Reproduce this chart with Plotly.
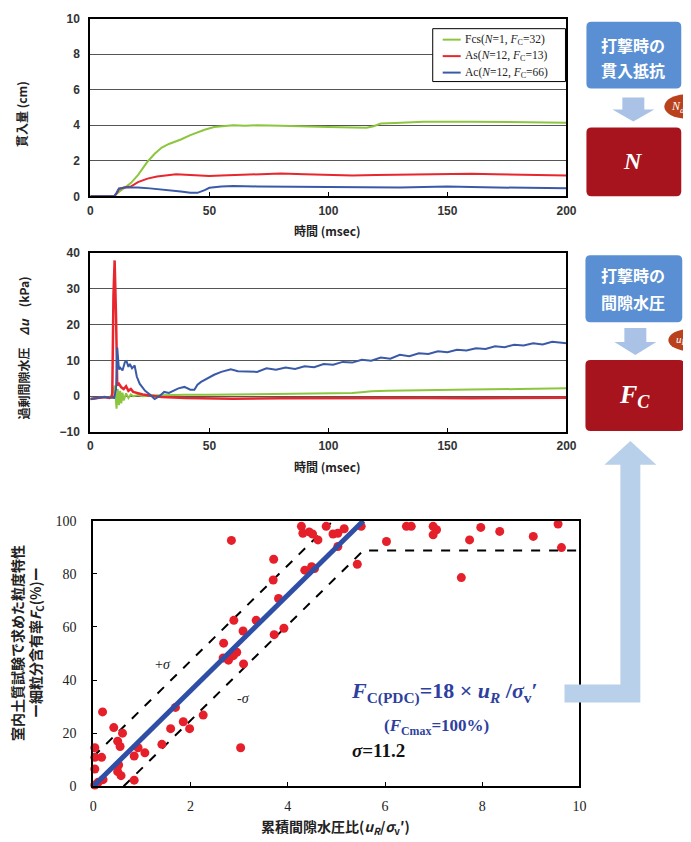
import plotly.graph_objects as go

W, H = 691, 842
# empirical mapping from target window pixels to figure pixels (compensates page offset/scaling)
SX, BX = 0.983, 9.5
SY, BY = 0.984, 14.3

# ---------------- top chart: penetration (cm) vs time (msec) ----------------
fcs_t = [0, 10, 11, 13, 15, 17, 20, 22, 24, 27, 30, 33, 36, 38, 42, 45, 48, 52, 56, 60, 65, 70, 80, 90,
         100, 110, 116, 119, 122, 128, 140, 160, 180, 200]
fcs_pen = [0, 0, 0.15, 0.35, 0.55, 0.75, 1.2, 1.55, 1.95, 2.4, 2.75, 2.95, 3.1, 3.2, 3.45, 3.62, 3.75, 3.9,
           3.97, 4.0, 3.98, 4.0, 3.97, 3.92, 3.9, 3.87, 3.86, 3.95, 4.1, 4.13, 4.2, 4.2, 4.18, 4.15]
as_t = [0, 10, 11, 12, 14, 17, 20, 24, 28, 32, 36, 40, 45, 50, 55, 60, 70, 80, 90, 100, 110, 120, 130,
        140, 150, 160, 170, 180, 190, 200]
as_pen = [0, 0, 0.15, 0.4, 0.5, 0.55, 0.8, 1.0, 1.12, 1.2, 1.25, 1.22, 1.2, 1.15, 1.18, 1.2, 1.22, 1.28,
          1.25, 1.22, 1.18, 1.2, 1.22, 1.25, 1.28, 1.27, 1.25, 1.22, 1.2, 1.18]
ac_t = [0, 10, 11, 12, 15, 20, 25, 30, 35, 38, 42, 45, 48, 50, 55, 60, 70, 80, 90, 100, 110, 120, 130,
        140, 150, 160, 170, 180, 190, 200]
ac_pen = [0, 0, 0.2, 0.45, 0.5, 0.5, 0.45, 0.4, 0.32, 0.28, 0.2, 0.2, 0.35, 0.48, 0.55, 0.58, 0.56, 0.55,
          0.52, 0.5, 0.48, 0.47, 0.5, 0.53, 0.55, 0.52, 0.5, 0.48, 0.46, 0.45]
legend_names = ['Fcs(<i>N</i>=1, <i>F</i><sub>C</sub>=32)',
                'As(<i>N</i>=12, <i>F</i><sub>C</sub>=13)',
                'Ac(<i>N</i>=12, <i>F</i><sub>C</sub>=66)']

# ---------------- middle chart: excess pore pressure (kPa) vs time ----------------
fcs_t2 = [0, 3, 6, 8, 9.5, 10.2, 11, 11.5, 12, 12.5, 13, 13.5, 14, 15, 16, 17, 18, 20, 22, 25, 30, 40, 50,
          60, 80, 100, 110, 115, 118, 125, 140, 160, 180, 200]
fcs_du = [-0.8, -0.5, -0.2, -0.5, 1.0, 3.0, -3.5, 2, -2.5, 1.5, -2, 1, -1.2, 0.8, -0.5, 0.5, 0, 0.3, 0, 0.2,
          0.3, 0.4, 0.4, 0.5, 0.6, 0.8, 0.9, 1.2, 1.4, 1.5, 1.7, 1.9, 2.0, 2.2]
as_t2 = [0, 3, 6, 8, 9.2, 9.7, 10.2, 10.8, 11.3, 12, 13, 14, 15, 16, 17, 18, 20, 22, 25, 30, 40, 50, 60, 80,
         100, 120, 140, 160, 180, 200]
as_du = [-0.8, -0.5, -0.2, -0.5, 0, 28, 38, 22, 3, 3.5, 2.5, 2, 2.8, 1.5, 2, 1.2, 0.8, 0.5, 0.2, -0.2, -0.5,
         -0.6, -0.7, -0.6, -0.5, -0.6, -0.5, -0.6, -0.5, -0.4]
ac_t2 = [0, 3, 6, 8, 10, 10.8, 11.3, 12, 12.5, 13.5, 14.5, 15.2, 16, 16.6, 17.5, 18.6, 19.5, 20.7, 22, 23,
         25, 27, 29, 31, 33, 35, 37, 39.5, 42, 43.7, 45, 46.5, 49, 52, 55, 59, 62, 66, 70, 74, 78, 82, 86,
         90, 94, 98, 102, 106, 110, 114, 118, 122, 126, 130, 134, 138, 142, 146, 150, 154, 158, 162, 166,
         170, 174, 178, 182, 186, 190, 194, 198, 200]
ac_du = [-0.8, -0.5, -0.2, -0.4, -0.5, 2, 13.6, 7.5, 8, 7.2, 9.5, 9.8, 8.2, 9, 7.8, 8.6, 5.5, 3.5, 2.2, 1.5,
         0.5, -0.8, 0, 1.2, 0.9, 1.6, 2.2, 2.6, 1.8, 1.8, 3.2, 4.0, 5.0, 6.0, 6.8, 7.5, 7.0, 7.0, 6.8, 7.8,
         7.4, 8.0, 7.6, 8.4, 8.1, 9.0, 8.8, 9.6, 9.4, 10.2, 9.9, 10.8, 10.5, 11.6, 11.2, 12.0, 11.8, 12.6,
         12.3, 13.0, 12.8, 13.4, 13.2, 14.0, 13.7, 14.4, 14.2, 14.8, 14.5, 15.2, 15.0, 14.8]

# ---------------- bottom chart: Fc vs cumulative pore pressure ratio ----------------
ur_ratio = [2.84, 3.71, 3.70, 3.81, 2.89, 3.35, 3.08, 3.72, 3.92, 2.68, 2.67, 2.78, 2.95, 2.88, 3.09,
            1.69, 1.85, 1.98, 1.59, 2.26, 1.41, 1.06, 0.84, 0.92, 3.03, 0.19, 0.42, 0.60, 0.50, 0.55,
            0.03, 0.03, 0.17, 0.03, 0.52, 0.50, 0.57, 0.84, 0.03, 0.10, 0.20,
            4.28, 4.31, 4.44, 4.51, 4.62, 4.79, 4.93, 5.03, 5.16, 5.03, 5.51, 4.35, 4.49, 4.55, 5.43,
            6.03, 6.44, 6.54, 6.99, 7.06, 6.99, 7.74, 7.97, 8.36, 7.57, 9.05, 9.56, 9.63]
fc_lab = [92.6, 85.5, 77.7, 70.7, 62.5, 62.5, 58.5, 57.1, 59.5, 53.9, 48.3, 47.5, 50.5, 49.2, 46.1,
          29.7, 24.3, 21.7, 21.7, 26.8, 15.8, 12.6, 11.4, 14.5, 14.5, 28.0, 22.1, 20.0, 17.0, 15.0,
          14.5, 10.9, 10.9, 6.5, 8.0, 5.5, 4.0, 2.3, 0.5, 1.5, 2.5,
          97.9, 95.3, 95.8, 95.0, 92.8, 97.9, 95.0, 95.3, 97.0, 90.3, 97.9, 81.4, 82.7, 82.0, 83.6,
          92.2, 97.9, 97.9, 97.9, 96.6, 94.7, 92.8, 97.5, 96.0, 78.6, 94.1, 98.8, 89.9]
slope = 18.0
sigma = 11.2
fc_max = 100.0

GREEN, RED, BLUE = '#8cc63f', '#e8262d', '#3a5aa8'

fig = go.Figure()

fig.add_trace(go.Scatter(x=fcs_t, y=fcs_pen, mode='lines', line=dict(color=GREEN, width=2),
                         name='Fcs', showlegend=False, xaxis='x', yaxis='y'))
fig.add_trace(go.Scatter(x=as_t, y=as_pen, mode='lines', line=dict(color=RED, width=2),
                         name='As', showlegend=False, xaxis='x', yaxis='y'))
fig.add_trace(go.Scatter(x=ac_t, y=ac_pen, mode='lines', line=dict(color=BLUE, width=2),
                         name='Ac', showlegend=False, xaxis='x', yaxis='y'))

fig.add_trace(go.Scatter(x=fcs_t2, y=fcs_du, mode='lines', line=dict(color=GREEN, width=2),
                         showlegend=False, xaxis='x2', yaxis='y2'))
fig.add_trace(go.Scatter(x=as_t2, y=as_du, mode='lines', line=dict(color=RED, width=2.5),
                         showlegend=False, xaxis='x2', yaxis='y2'))
fig.add_trace(go.Scatter(x=ac_t2, y=ac_du, mode='lines', line=dict(color=BLUE, width=2),
                         showlegend=False, xaxis='x2', yaxis='y2'))

# regression and ±sigma lines
x_knee = fc_max / slope
x_plus_end = (fc_max - sigma) / slope
x_minus_start = sigma / slope
fig.add_trace(go.Scatter(x=[0, x_plus_end], y=[sigma, fc_max], mode='lines',
                         line=dict(color='black', width=2, dash='dash'), showlegend=False,
                         xaxis='x3', yaxis='y3'))
fig.add_trace(go.Scatter(x=[x_minus_start, x_knee, 10], y=[0, fc_max - sigma, fc_max - sigma],
                         mode='lines', line=dict(color='black', width=2, dash='dash'),
                         showlegend=False, xaxis='x3', yaxis='y3'))
fig.add_trace(go.Scatter(x=ur_ratio, y=fc_lab, mode='markers',
                         marker=dict(color='#e5202a', size=9), showlegend=False,
                         xaxis='x3', yaxis='y3', cliponaxis=False))
fig.add_trace(go.Scatter(x=[0, x_knee], y=[0, fc_max], mode='lines',
                         line=dict(color='#2f4fa6', width=5), showlegend=False,
                         xaxis='x3', yaxis='y3'))


def X(r):
    """target pixel x -> paper x"""
    return ((r - BX) / SX) / W


def Y(r):
    """target pixel y -> paper y"""
    return 1 - ((r - BY) / SY) / H


sans_tick = dict(family='Liberation Sans', size=12, color='#333', weight='bold')
serif_tick = dict(family='Liberation Serif', size=14, color='#222')

common_x = dict(showline=True, linecolor='black', linewidth=2, mirror=True, ticks='inside',
                ticklen=4, tickcolor='black', showgrid=False, zeroline=False)

fig.update_layout(
    width=W, height=H, margin=dict(l=0, r=0, t=0, b=0),
    paper_bgcolor='white', plot_bgcolor='white', showlegend=False,
    font=dict(family='Noto Sans CJK JP'),
    xaxis=dict(domain=[X(89), X(566)], anchor='y', range=[0, 200], tickvals=[0, 50, 100, 150, 200],
               tickfont=sans_tick, ticklabelstandoff=2, **common_x),
    yaxis=dict(domain=[Y(196), Y(18)], anchor='x', range=[0, 10], tickvals=[0, 2, 4, 6, 8, 10],
               showline=True, linecolor='black', linewidth=2, mirror=True, ticks='',
               showgrid=True, gridcolor='#555', gridwidth=1, zeroline=False,
               tickfont=sans_tick, ticklabelstandoff=6),
    xaxis2=dict(domain=[X(89), X(566)], anchor='y2', range=[0, 200], tickvals=[0, 50, 100, 150, 200],
                tickfont=sans_tick, ticklabelstandoff=2, **common_x),
    yaxis2=dict(domain=[Y(432), Y(253)], anchor='x2', range=[-10, 40],
                tickvals=[-10, 0, 10, 20, 30, 40],
                showline=True, linecolor='black', linewidth=2, mirror=True, ticks='',
                showgrid=True, gridcolor='#555', gridwidth=1, zeroline=False,
                tickfont=sans_tick, ticklabelstandoff=6),
    xaxis3=dict(domain=[X(92), X(579)], anchor='y3', range=[0, 10], tickvals=[0, 2, 4, 6, 8, 10],
                tickfont=serif_tick, ticklabelstandoff=6, **common_x),
    yaxis3=dict(domain=[Y(787), Y(521)], anchor='x3', range=[0, 100],
                tickvals=[0, 20, 40, 60, 80, 100],
                showline=True, linecolor='black', linewidth=2, mirror=True, ticks='inside',
                ticklen=4, tickcolor='black', showgrid=False, zeroline=False,
                tickfont=serif_tick, ticklabelstandoff=12),
)


def rrect(x0, y0, x1, y1, r):
    return (f"M {X(x0 + r)},{Y(y0)} L {X(x1 - r)},{Y(y0)} Q {X(x1)},{Y(y0)} {X(x1)},{Y(y0 + r)} "
            f"L {X(x1)},{Y(y1 - r)} Q {X(x1)},{Y(y1)} {X(x1 - r)},{Y(y1)} "
            f"L {X(x0 + r)},{Y(y1)} Q {X(x0)},{Y(y1)} {X(x0)},{Y(y1 - r)} "
            f"L {X(x0)},{Y(y0 + r)} Q {X(x0)},{Y(y0)} {X(x0 + r)},{Y(y0)} Z")


def poly(pts):
    return "M " + " L ".join(f"{X(a)},{Y(b)}" for a, b in pts) + " Z"


shapes = []
BOXBLUE, BOXRED, ARROW = '#5b8fd3', '#a8141e', '#a9c2e6'
# legend box for the top chart
shapes.append(dict(type='rect', x0=X(432), x1=X(565), y0=Y(81), y1=Y(28), fillcolor='white',
                   line=dict(color='black', width=1), xref='paper', yref='paper'))
for i, col in enumerate([GREEN, RED, BLUE]):
    yy = 39 + 16.5 * i
    shapes.append(dict(type='line', x0=X(442), x1=X(460), y0=Y(yy), y1=Y(yy),
                       line=dict(color=col, width=2), xref='paper', yref='paper'))
# top flow
shapes.append(dict(type='path', path=rrect(586, 21, 681, 88, 5), fillcolor=BOXBLUE, line=dict(width=0),
                   xref='paper', yref='paper'))
shapes.append(dict(type='path', path=poly([(622, 97), (644, 97), (644, 109), (654, 109), (633, 121),
                                           (612, 109), (622, 109)]),
                   fillcolor=ARROW, line=dict(width=0), xref='paper', yref='paper'))
shapes.append(dict(type='circle', x0=X(664), x1=X(706), y0=Y(118), y1=Y(94), fillcolor='#b9421c',
                   line=dict(width=0), xref='paper', yref='paper'))
shapes.append(dict(type='path', path=rrect(586, 127, 681, 196, 5), fillcolor=BOXRED, line=dict(width=0),
                   xref='paper', yref='paper'))
# middle flow
shapes.append(dict(type='path', path=rrect(585, 255, 682, 322, 5), fillcolor=BOXBLUE, line=dict(width=0),
                   xref='paper', yref='paper'))
shapes.append(dict(type='path', path=poly([(624, 328), (646, 328), (646, 342), (656, 342), (635, 355),
                                           (614, 342), (624, 342)]),
                   fillcolor=ARROW, line=dict(width=0), xref='paper', yref='paper'))
shapes.append(dict(type='circle', x0=X(668), x1=X(710), y0=Y(351), y1=Y(329), fillcolor='#b9421c',
                   line=dict(width=0), xref='paper', yref='paper'))
shapes.append(dict(type='path', path=rrect(585, 360, 684, 431, 5), fillcolor=BOXRED, line=dict(width=0),
                   xref='paper', yref='paper'))
# big L arrow
shapes.append(dict(type='path', path=poly([(564, 685), (620, 685), (620, 465), (604, 465), (630, 441),
                                           (656, 465), (640, 465), (640, 703), (564, 703)]),
                   fillcolor='#b9d0ea', line=dict(width=0), xref='paper', yref='paper'))
fig.update_layout(shapes=shapes)

ann = []


def A(px, py, text, size, color='black', family='Noto Sans CJK JP', angle=0, xanchor='center'):
    ann.append(dict(x=X(px), y=Y(py), xref='paper', yref='paper', text=text, showarrow=False,
                    textangle=angle, xanchor=xanchor, yanchor='middle',
                    font=dict(size=size, color=color, family=family)))


# legend texts
for i, name in enumerate(legend_names):
    A(462, 39 + 16.5 * i, name, 11.5, '#222', family='Liberation Serif', xanchor='left')

# axis titles
A(327, 230, '<b>時間 (msec)</b>', 12, '#222')
A(327, 467, '<b>時間 (msec)</b>', 12, '#222')
A(20, 113, '<b>貫入量 (cm)</b>', 12, '#222', angle=-90)
A(22, 348, '<b>過剰間隙水圧　<i>Δu</i>　(kPa)</b>', 12, '#222', angle=-90)
A(15, 643, '<b>室内土質試験で求めた粒度特性</b>', 14, '#222', angle=-90)
A(34, 643, '<b>ー細粒分含有率<i>F</i><sub>C</sub>(%)ー</b>', 14, '#222', angle=-90)
A(335, 828, '<b>累積間隙水圧比(<i>u<sub>R</sub></i>/<i>σ</i><sub>v</sub>′)</b>', 14, '#222')

# box texts
A(633, 44, '<b>打撃時の</b>', 16, 'white')
A(633, 69, '<b>貫入抵抗</b>', 16, 'white')
A(633, 161, '<b><i>N</i></b>', 24, 'white', family='Liberation Serif')
A(678, 106, '<i>N<sub>d</sub></i>', 12, 'white', family='Liberation Serif')
A(633, 275, '<b>打撃時の</b>', 16, 'white')
A(633, 302, '<b>間隙水圧</b>', 16, 'white')
A(634, 396, '<b><i>F<sub>C</sub></i></b>', 26, 'white', family='Liberation Serif')
A(681, 340, '<i>u<sub>R</sub></i>', 11, 'white', family='Liberation Serif')

# bottom chart texts
A(162, 665, '+<i>σ</i>', 14, '#222', family='Liberation Serif')
A(242, 699, '-<i>σ</i>', 14, '#222', family='Liberation Serif')
A(348, 693, '<b><i>F</i><sub>C(PDC)</sub>=18 × <i>u<sub>R</sub></i> /<i>σ</i><sub>v</sub>′</b>', 22,
  '#2e3f9e', family='Liberation Serif', xanchor='left')
A(381, 728, '<b>(<i>F</i><sub>Cmax</sub>=100%)</b>', 17, '#2e3f9e', family='Liberation Serif',
  xanchor='left')
A(349, 751, '<b><i>σ</i>=11.2</b>', 19, '#111', family='Liberation Serif', xanchor='left')

fig.update_layout(annotations=ann)
fig.write_html('out.html')
